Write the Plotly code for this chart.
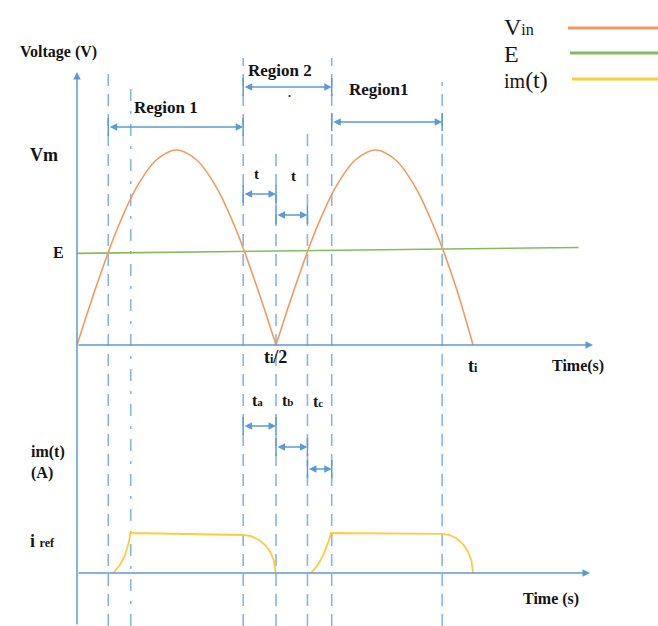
import plotly.graph_objects as go

# ---------------- data (time in units of t_i/2, voltage in Vm, current in i_ref) -------------
vin_t = [0.0, 0.1, 0.2, 0.3, 0.4, 0.5, 0.6, 0.7, 0.8, 0.9, 1.0, None,
         1.0, 1.1, 1.2, 1.3, 1.4, 1.5, 1.6, 1.7, 1.8, 1.9, 1.99]
vin_v = [0.0, 0.31, 0.59, 0.81, 0.95, 1.0, 0.95, 0.81, 0.59, 0.31, 0.0, None,
         0.0, 0.31, 0.59, 0.81, 0.95, 1.0, 0.95, 0.81, 0.59, 0.31, 0.0]

e_t = [0.0, 2.52]
e_v = [0.47, 0.50]

im_t = [0.182, 0.215, 0.24, 0.252, 0.262, 0.268, 0.55, 0.835, 0.876, 0.917, 0.95,
        0.974, 0.99, 0.998, None,
        1.176, 1.21, 1.235, 1.252, 1.265, 1.276, 1.55, 1.834, 1.873, 1.912, 1.943,
        1.966, 1.982, 1.99]
im_v = [0.0, 0.2, 0.42, 0.62, 0.8, 1.0, 0.98, 0.95, 0.92, 0.82, 0.68,
        0.5, 0.3, 0.0, None,
        0.0, 0.2, 0.42, 0.62, 0.8, 1.0, 0.99, 0.98, 0.95, 0.85, 0.7,
        0.52, 0.31, 0.0]

# instants marked with dashed lines: E crossings, t_c end, t_i/2 ...
mark_t = [0.157, 0.27, 0.835, 1.0, 1.158, 1.28, 1.835]
t_end_axis = 2.593
t_end_axis2 = 2.578
t_half_label = "t<span style='font-size:12px'>i</span>/2"
t_full_label = "t<span style='font-size:12px'>i</span>"

# ---------------- geometry helpers (pixel layout) ----------------
W, H = 658, 626
X0, XS = 77.0, 199.0        # px of t=0, px per unit time
Y0, YS = 345.0, 195.0       # px of V=0, px per Vm
I0, IS = 573.0, 40.0        # px of i=0, px per i_ref

def vy(py):   # pixel row -> voltage axis units
    return (Y0 - py) / YS

def px(x):
    return x / W

def py(y):
    return 1 - y / H

BLUE = "#5B9BD5"
DASH = "#86B6E2"
ORANGE = "#F29A5E"
GREEN = "#84BC5C"
YELLOW = "#FFCB3D"
TXT = "#141414"
SERIF = "Liberation Serif"

fig = go.Figure()
fig.add_trace(go.Scatter(x=e_t, y=e_v, mode="lines", line=dict(color=GREEN, width=1.6),
                         showlegend=False, hoverinfo="skip"))
fig.add_trace(go.Scatter(x=vin_t, y=vin_v, mode="lines", line=dict(color=ORANGE, width=1.6, shape="spline"),
                         connectgaps=False, showlegend=False, hoverinfo="skip"))
fig.add_trace(go.Scatter(x=im_t, y=im_v, mode="lines", yaxis="y2", line=dict(color=YELLOW, width=1.8),
                         connectgaps=False, showlegend=False, hoverinfo="skip"))

shapes = []
# dashed vertical markers
tops = [72, 85, 58, 150, 133, 58, 82]
styles = ["12px,8px", "12px,10px,3px,10px", "12px,8px", "12px,8px", "12px,8px", "12px,8px", "12px,8px"]
for t, top, st in zip(mark_t, tops, styles):
    shapes.append(dict(type="line", xref="x", yref="paper", x0=t, x1=t, y0=0, y1=py(top),
                       line=dict(color=DASH, width=1.6, dash=st), layer="below"))

annotations = []

def arrow(x_head, y_head, x_tail, y_tail, both=False, yref="y"):
    annotations.append(dict(x=x_head, y=y_head, ax=x_tail, ay=y_tail, xref="x", yref=yref,
                            axref="x", ayref=yref, text="", showarrow=True,
                            arrowhead=2, startarrowhead=2, arrowsize=1.0, startarrowsize=1.0,
                            arrowwidth=1.5, arrowcolor=BLUE,
                            arrowside="end+start" if both else "end"))

# axes
arrow(0, vy(72), 0, vy(H))
arrow(t_end_axis, 0, 0, 0)
arrow(t_end_axis2, 0, 0, 0, yref="y2")

# double-headed interval arrows (t0, t1, pixel row)
intervals = [(mark_t[0], mark_t[2], 127), (mark_t[2], mark_t[5], 87), (mark_t[5], mark_t[6], 122),
             (mark_t[2], mark_t[3], 194), (mark_t[3], mark_t[4], 215),
             (mark_t[2], mark_t[3], 426), (mark_t[3], mark_t[4], 447), (mark_t[4], mark_t[5], 469)]
for a, b, r in intervals:
    arrow(b, vy(r), a, vy(r), both=True)
    for e in (a, b):
        shapes.append(dict(type="line", xref="x", yref="paper", x0=e, x1=e,
                           y0=py(r + 9), y1=py(r - 9), line=dict(color=BLUE, width=1.5)))

def label(x, y, text, size=17, bold=True, anchor="center", color=TXT):
    annotations.append(dict(x=px(x), y=py(y), xref="paper", yref="paper", text=("<b>%s</b>" % text) if bold else text,
                            showarrow=False, xanchor=anchor, yanchor="middle",
                            font=dict(family=SERIF, size=size, color=color)))

label(58, 52, "Voltage (V)", 16)
label(166, 107, "Region 1", 17)
label(280, 71, "Region 2", 17)
label(379, 89, "Region1", 17)
label(289, 93, ".", 12)
label(44, 155, "Vm", 18)
label(58, 253, "E", 16)
label(256, 174, "t", 15)
label(293, 176, "t", 15)
label(275, 357, t_half_label, 18)
label(473, 366, t_full_label, 18)
label(578, 366, "Time(s)", 16)
label(257, 400, "t<span style='font-size:11px'>a</span>", 16)
label(287, 400, "t<span style='font-size:11px'>b</span>", 16)
label(318, 401, "t<span style='font-size:11px'>c</span>", 16)
label(29, 452, "im(t)", 16, anchor="left")
label(29, 473, "(A)", 16, anchor="left")
label(28, 541, "i <span style='font-size:12px'>ref</span>", 18, anchor="left")
label(551, 599, "Time (s)", 16)

# legend drawn as text + line samples
leg = [("V<span style='font-size:16px'>in</span>", 27, 28, 568, ORANGE),
       ("E", 54, 53, 570, GREEN),
       ("<span style='font-size:20px'>im</span>(t)", 80, 79, 572, YELLOW)]
for txt, ty, ly, lx, col in leg:
    label(502, ty, txt, 24, bold=False, anchor="left")
    shapes.append(dict(type="line", xref="paper", yref="paper", x0=px(lx), x1=1.0, y0=py(ly), y1=py(ly),
                       line=dict(color=col, width=3)))

fig.update_layout(
    width=W, height=H, margin=dict(l=0, r=0, t=0, b=0),
    paper_bgcolor="white", plot_bgcolor="white",
    xaxis=dict(range=[-X0 / XS, (W - X0) / XS], visible=False, fixedrange=True),
    yaxis=dict(range=[-(H - Y0) / YS, Y0 / YS], visible=False, fixedrange=True),
    yaxis2=dict(range=[-(H - I0) / IS, I0 / IS], visible=False, overlaying="y", fixedrange=True),
    shapes=shapes, annotations=annotations, showlegend=False,
)

fig.write_html("out.html", config={"displayModeBar": False},
               post_script="document.body.style.margin='0';")
